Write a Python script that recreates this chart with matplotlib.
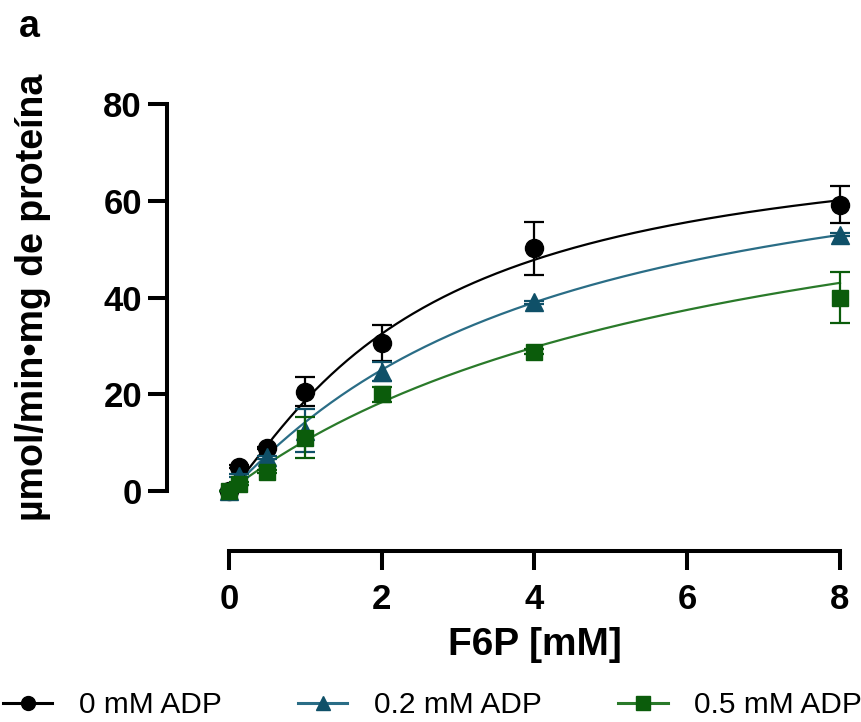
import numpy as np
import matplotlib
matplotlib.use("Agg")
import matplotlib.pyplot as plt

plt.rcParams["font.family"] = ["Liberation Sans", "DejaVu Sans"]

# F6P concentrations (mM)
f6p = [0, 0.125, 0.5, 1, 2, 4, 8]

# mean activity and error (umol/min mg protein) per ADP level
adp0_mean = [0, 5.0, 8.9, 20.5, 30.6, 50.2, 59.2]
adp0_err = [0, 0.3, 0.3, 3.0, 3.8, 5.5, 3.8]
adp02_mean = [0, 3.2, 7.0, 12.5, 24.7, 39.0, 53.0]
adp02_err = [0, 0.3, 0.3, 4.5, 2.0, 0.3, 0.3]
adp05_mean = [0, 1.5, 4.0, 11.0, 20.0, 28.8, 40.0]
adp05_err = [0, 0.3, 0.3, 4.2, 1.5, 0.5, 5.3]

# fitted Hill parameters (Vmax, K, h) for the drawn curves
adp0_fit = [75, 2.5, 1.2]
adp02_fit = [78, 4.0, 1.08]
adp05_fit = [78, 6.5, 1.0]

labels = ["0 mM ADP", "0.2 mM ADP", "0.5 mM ADP"]
markers = ["o", "^", "s"]
point_colors = ["#000000", "#0f5068", "#0b5c0b"]
line_colors = ["#000000", "#2a6d86", "#2a7a2a"]


def hill(x, vmax, k, h):
    return vmax * x**h / (k**h + x**h)


fig = plt.figure(figsize=(8.61, 7.22), dpi=100)
W, H = 861, 722
left, right, top, bottom = 167, 840, 104, 551
ax = fig.add_axes([left / W, 1 - bottom / H, (right - left) / W, (bottom - top) / H])

xs = np.linspace(0, 8, 300)
series = [
    (adp05_mean, adp05_err, adp05_fit, 2),
    (adp02_mean, adp02_err, adp02_fit, 1),
    (adp0_mean, adp0_err, adp0_fit, 0),
]
handles = [None] * 3
for mean, err, fit, i in series:
    ax.plot(xs, hill(xs, *fit), color=line_colors[i], lw=1.6, zorder=2 + i, clip_on=False)
    ax.errorbar(f6p, mean, yerr=err, fmt=markers[i], color=point_colors[i],
                ms=13 if markers[i] != "s" else 12, capsize=7, elinewidth=1.6,
                capthick=1.6, zorder=3 + i, clip_on=False)
    handles[i] = plt.Line2D([], [], color=line_colors[i], lw=2.2, marker=markers[i],
                            mfc=point_colors[i], mec=point_colors[i], ms=10)

x0 = 0 - (229 - left) / 76.4
ax.set_xlim(x0, 8)
ax.set_ylim(-(bottom - 491) / 4.84, 80)

for s in ["top", "right"]:
    ax.spines[s].set_visible(False)
for s in ["left", "bottom"]:
    ax.spines[s].set_linewidth(2.9)
ax.spines["left"].set_bounds(0, 80)
ax.spines["bottom"].set_bounds(0, 8)

ax.set_xticks([0, 2, 4, 6, 8])
ax.set_yticks([0, 20, 40, 60, 80])
ax.tick_params(axis="both", direction="out", length=14, width=2.9, labelsize=25)
ax.tick_params(axis="x", pad=9)
ax.tick_params(axis="y", pad=4)
for lab in ax.get_xticklabels() + ax.get_yticklabels():
    lab.set_fontweight("bold")

ax.set_xlabel("F6P [mM]", fontsize=28, fontweight="bold")
ax.xaxis.set_label_coords(0.547, -0.17)
ax.set_ylabel("µmol/min•mg de proteína", fontsize=27, fontweight="bold")
ax.yaxis.set_label_coords(-0.172, 0.568)

fig.text(0.022, 0.988, "a", fontsize=27, fontweight="bold", va="top", ha="left")

fig.legend(handles, labels, loc="center left", bbox_to_anchor=(3 / W, (H - 705) / H),
           ncol=3, frameon=False, fontsize=21.5, handlelength=1.65, handletextpad=0.9,
           columnspacing=2.55, borderpad=0, borderaxespad=0)

fig.savefig("out.png", dpi=100, facecolor="white")
